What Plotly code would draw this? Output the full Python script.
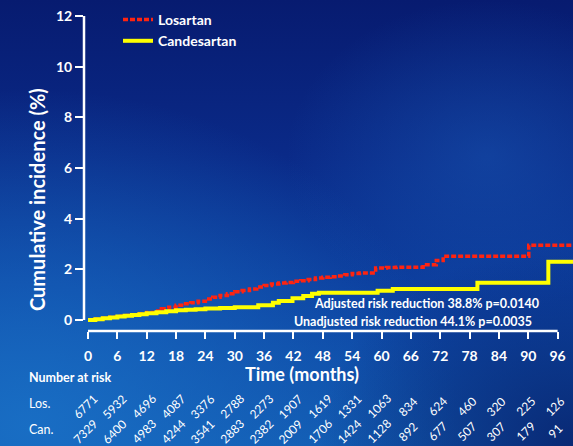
import base64
import plotly.graph_objects as go

# Kaplan-Meier style cumulative incidence (%) by month
los_months = [0, 1.5, 3, 4.5, 6, 7.5, 9, 10.5, 12, 13.5, 15, 16.5, 18, 19.5, 21, 22.5,
              24, 25.5, 27, 28.5, 30, 31.5, 33, 34.5, 36, 37.5, 39, 40.5, 42, 43.5,
              45, 46.5, 48, 49.5, 51, 52.5, 54, 55.5, 58.8, 61, 63, 68.5, 71.2, 72.6,
              90.1, 99.5]
los_values = [0, 0.03, 0.07, 0.11, 0.15, 0.18, 0.21, 0.25, 0.30, 0.36, 0.44, 0.50,
              0.58, 0.64, 0.68, 0.74, 0.83, 0.90, 0.97, 1.04, 1.12, 1.16, 1.22, 1.30,
              1.36, 1.42, 1.46, 1.48, 1.53, 1.55, 1.60, 1.66, 1.69, 1.71, 1.74, 1.79,
              1.84, 1.86, 2.05, 2.07, 2.08, 2.18, 2.35, 2.52, 2.95, 2.95]

can_months = [0, 1.5, 3, 4.5, 6, 7.5, 9, 10.5, 12, 14, 16, 18, 20, 22, 24, 27, 30,
              34.8, 37.8, 39, 41.8, 44, 45.8, 47.2, 59.2, 62.3, 79.6, 94.1, 99.5]
can_values = [0, 0.03, 0.07, 0.10, 0.14, 0.17, 0.20, 0.23, 0.27, 0.31, 0.35, 0.38,
              0.40, 0.42, 0.45, 0.47, 0.50, 0.58, 0.68, 0.75, 0.86, 0.95, 1.04, 1.08,
              1.15, 1.22, 1.47, 2.30, 2.30]

# Axis ticks and number-at-risk table
x_ticks = list(range(0, 97, 6))
y_ticks = [0, 2, 4, 6, 8, 10, 12]
risk_los = [6771, 5932, 4696, 4087, 3376, 2788, 2273, 1907, 1619, 1331, 1063,
            834, 624, 460, 320, 225, 126]
risk_can = [7329, 6400, 4983, 4244, 3541, 2883, 2382, 2009, 1706, 1424, 1128,
            892, 677, 507, 307, 179, 91]

stat_lines = ["Adjusted risk reduction 38.8% p=0.0140",
              "Unadjusted risk reduction 44.1% p=0.0035"]

# Canvas geometry (pixels)
FIG_W, FIG_H = 573, 446
L, T, R, B = 84, 16, 0, 115
W = FIG_W - L - R
H = FIG_H - T - B
PX_PER_MONTH = 4.892
X0_PX = 88          # pixel position of month 0
Y0_PX = 320         # pixel position of 0 %
PX_PER_PCT = (Y0_PX - T) / 12.0

x_range = [(L - X0_PX) / PX_PER_MONTH, (FIG_W - R - X0_PX) / PX_PER_MONTH]
y_range = [(Y0_PX - (T + H)) / PX_PER_PCT, 12]


def px_x(px):
    return (px - L) / W


def px_y(py):
    return (T + H - py) / H


FONT = "Lato"
WHITE = "#ffffff"

# Blue backdrop
svg = f"""<svg xmlns='http://www.w3.org/2000/svg' width='{FIG_W}' height='{FIG_H}' viewBox='0 0 {FIG_W} {FIG_H}' preserveAspectRatio='none'>
<defs>
<linearGradient id='base' x1='0' y1='0' x2='0' y2='1'>
<stop offset='0' stop-color='#071b70'/>
<stop offset='0.35' stop-color='#0a2a88'/>
<stop offset='0.65' stop-color='#0c3e9e'/>
<stop offset='1' stop-color='#1157ae'/>
</linearGradient>
<radialGradient id='glow' cx='0.05' cy='0.95' r='0.75'>
<stop offset='0' stop-color='#1a72c8' stop-opacity='0.85'/>
<stop offset='1' stop-color='#1a72c8' stop-opacity='0'/>
</radialGradient>
<radialGradient id='dark' cx='1' cy='1' r='0.45'>
<stop offset='0' stop-color='#07206a' stop-opacity='0.85'/>
<stop offset='1' stop-color='#07206a' stop-opacity='0'/>
</radialGradient>
<radialGradient id='sweep' cx='0.85' cy='0.35' r='0.35'>
<stop offset='0' stop-color='#1a5cb8' stop-opacity='0.45'/>
<stop offset='1' stop-color='#1a5cb8' stop-opacity='0'/>
</radialGradient>
</defs>
<rect width='{FIG_W}' height='{FIG_H}' fill='url(#base)'/>
<rect width='{FIG_W}' height='{FIG_H}' fill='url(#glow)'/>
<rect width='{FIG_W}' height='{FIG_H}' fill='url(#sweep)'/>
<rect width='{FIG_W}' height='{FIG_H}' fill='url(#dark)'/>
</svg>"""
bg_uri = "data:image/svg+xml;base64," + base64.b64encode(svg.encode()).decode()

fig = go.Figure()
fig.add_trace(go.Scatter(
    x=los_months, y=los_values, name="Losartan", mode="lines",
    line=dict(color="#ff2410", width=3.5, dash="5px,2px", shape="hv"),
))
fig.add_trace(go.Scatter(
    x=can_months, y=can_values, name="Candesartan", mode="lines",
    line=dict(color="#ffff00", width=4, shape="hv"),
))


def label(text, x, y, size, bold=True, xref="paper", xanchor="center", **kw):
    font = dict(family=FONT, size=size, color=WHITE)
    if bold:
        font["weight"] = "bold"
    return dict(text=text, xref=xref, yref="paper", x=x, y=y, showarrow=False,
                xanchor=xanchor, yanchor="middle", font=font, **kw)


annotations = [
    label("Cumulative incidence (%)", px_x(37), px_y(200), 20, textangle=-90),
    label("Time (months)", px_x(302), px_y(374), 18),
    label("Number at risk", px_x(27), px_y(377), 12.5, xanchor="left"),
    label("Los.", px_x(27), px_y(403), 12.5, bold=False, xanchor="left"),
    label("Can.", px_x(27), px_y(429), 12.5, bold=False, xanchor="left"),
]
for text, cx, cy in zip(stat_lines, [426, 413], [303, 321]):
    annotations.append(label(text, px_x(cx), px_y(cy), 12.5))
for counts, row_y in [(risk_los, 406), (risk_can, 431)]:
    for m, n in zip(x_ticks, counts):
        annotations.append(label(str(n), m, px_y(row_y), 12, bold=False,
                                 xref="x", xshift=-3, textangle=-45))

# Range-frame axis lines
shapes = [
    dict(type="line", xref="paper", yref="y", x0=0, x1=0, y0=0, y1=12,
         line=dict(color=WHITE, width=2.5)),
    dict(type="line", xref="x", yref="paper", x0=0, x1=96, y0=0, y1=0,
         line=dict(color=WHITE, width=2.5)),
]

fig.update_layout(
    width=FIG_W, height=FIG_H,
    margin=dict(l=L, r=R, t=T, b=B, pad=0),
    paper_bgcolor="rgba(0,0,0,0)", plot_bgcolor="rgba(0,0,0,0)",
    images=[dict(source=bg_uri, xref="paper", yref="paper",
                 x=-L / W, y=1 + T / H, sizex=FIG_W / W, sizey=FIG_H / H,
                 xanchor="left", yanchor="top", sizing="stretch", layer="below")],
    xaxis=dict(range=x_range, tickvals=x_ticks, ticks="outside", ticklen=7,
               tickwidth=2, tickcolor=WHITE, showgrid=False, zeroline=False,
               showline=False, ticklabelstandoff=5,
               tickfont=dict(family=FONT, size=14, color=WHITE, weight="bold")),
    yaxis=dict(range=y_range, tickvals=y_ticks, ticks="outside", ticklen=8,
               tickwidth=2, tickcolor=WHITE, showgrid=False, zeroline=False,
               showline=False,
               tickfont=dict(family=FONT, size=14, color=WHITE, weight="bold")),
    legend=dict(x=px_x(118), y=px_y(4), xanchor="left", yanchor="top",
                bgcolor="rgba(0,0,0,0)", itemwidth=30, tracegroupgap=0,
                font=dict(family=FONT, size=14, color=WHITE, weight="bold")),
    annotations=annotations,
    shapes=shapes,
)

fig.write_html("out.html")
